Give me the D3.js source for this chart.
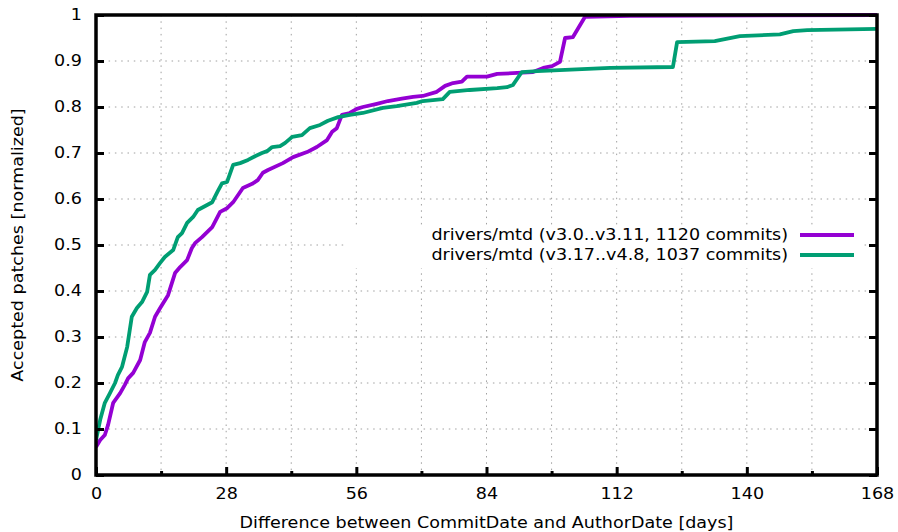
<!DOCTYPE html>
<html>
<head>
<meta charset="utf-8">
<script src="https://cdn.jsdelivr.net/npm/d3@7"></script>
<style>
  body { margin: 0; background: #fff; }
  svg { display: block; font-family: "DejaVu Sans", sans-serif; }
  .grid line { stroke: #a0a0a0; stroke-width: 1; stroke-dasharray: 1.5,4.8; }
</style>
</head>
<body>
<svg width="898" height="532"></svg>
<script>
// purple: drivers/mtd v3.0..v3.11
const daysA = [0, 0.9, 1.9, 2.6, 3.7, 5.2, 6.2, 6.9, 8.0, 9.5, 10.5, 11.6, 12.7, 13.8, 15.5, 17, 18.1, 19.6, 20.6, 21.3, 22.8, 25, 26.7, 28.2, 29.5, 31.6, 33.6, 34.8, 35.9, 37, 40.2, 42.4, 45.4, 47.5, 49.7, 50.8, 51.8, 52.9, 54.6, 56.1, 57.4, 60.4, 62.8, 65.8, 68.2, 70.3, 73.3, 75.1, 76.8, 78.7, 79.8, 84.1, 86.3, 90.6, 94, 96.2, 98.1, 99.8, 100.9, 102.6, 105.2, 114.9, 168];
const valsA = [0.061, 0.076, 0.087, 0.109, 0.157, 0.178, 0.196, 0.21, 0.222, 0.25, 0.289, 0.309, 0.344, 0.363, 0.391, 0.439, 0.452, 0.467, 0.493, 0.504, 0.517, 0.539, 0.572, 0.58, 0.593, 0.624, 0.633, 0.641, 0.657, 0.663, 0.678, 0.691, 0.702, 0.713, 0.728, 0.746, 0.754, 0.783, 0.787, 0.796, 0.8, 0.807, 0.813, 0.818, 0.822, 0.824, 0.833, 0.846, 0.852, 0.855, 0.866, 0.866, 0.872, 0.874, 0.876, 0.885, 0.889, 0.898, 0.95, 0.952, 0.996, 0.998, 1.0];

// green: drivers/mtd v3.17..v4.8
const daysB = [0, 0.9, 1.9, 3, 4.1, 4.7, 5.6, 5.8, 6.7, 7.7, 8.8, 9.9, 11, 11.6, 12.7, 13.8, 14.8, 16.6, 17.6, 18.5, 19.6, 20.9, 21.9, 23.9, 25, 26.2, 27.1, 28.2, 29.5, 31, 32.7, 34.2, 35.7, 36.8, 37.9, 39.6, 40.7, 42.2, 44.3, 46, 48.2, 49.9, 52.1, 54.6, 57.4, 61.7, 64.7, 69, 70.3, 74.6, 76.1, 80.4, 86.3, 88.4, 89.7, 91.6, 94.9, 110.6, 124.1, 125, 133.1, 138.5, 147.1, 150, 153, 168];
const valsB = [0.076, 0.12, 0.157, 0.178, 0.2, 0.217, 0.235, 0.243, 0.278, 0.344, 0.363, 0.376, 0.398, 0.435, 0.446, 0.461, 0.474, 0.489, 0.517, 0.526, 0.548, 0.561, 0.576, 0.587, 0.593, 0.617, 0.634, 0.637, 0.674, 0.678, 0.685, 0.693, 0.7, 0.704, 0.713, 0.715, 0.722, 0.735, 0.739, 0.754, 0.761, 0.77, 0.778, 0.783, 0.787, 0.798, 0.802, 0.809, 0.813, 0.817, 0.833, 0.837, 0.841, 0.843, 0.848, 0.876, 0.878, 0.885, 0.887, 0.941, 0.943, 0.954, 0.958, 0.965, 0.967, 0.97];

const xTicks = [0, 28, 56, 84, 112, 140, 168];
const xMinor = [14, 42, 70, 98, 126, 154];
const yTicks = [0, 0.1, 0.2, 0.3, 0.4, 0.5, 0.6, 0.7, 0.8, 0.9, 1];

const series = [
  { label: 'drivers/mtd (v3.0..v3.11, 1120 commits)', color: '#9400d3', days: daysA, vals: valsA },
  { label: 'drivers/mtd (v3.17..v4.8, 1037 commits)', color: '#009e73', days: daysB, vals: valsB }
];

const svg = d3.select('svg');
const plotL = 96, plotR = 877, plotT = 15, plotB = 475;
const stretch = 1.17; // text in the original is drawn wider than normal

const x = d3.scaleLinear().domain([0, 168]).range([plotL, plotR]);
const y = d3.scaleLinear().domain([0, 1]).range([plotB, plotT]);

// grid
const grid = svg.append('g').classed('grid', true);
grid.selectAll('.gy')
  .data(yTicks.slice(1, -1))
  .join('line')
  .attr('x1', plotL).attr('x2', plotR)
  .attr('y1', d => y(d)).attr('y2', d => y(d));
grid.selectAll('.gx')
  .data(xTicks.slice(1, -1).concat(xMinor))
  .join('line')
  .attr('x1', d => x(d)).attr('x2', d => x(d))
  .attr('y1', plotT).attr('y2', plotB);

// legend box blanks the grid behind it
svg.append('rect')
  .attr('x', 345).attr('y', 225)
  .attr('width', 518).attr('height', 43)
  .attr('fill', '#fff');

// lines
svg.append('clipPath').attr('id', 'clip')
  .append('rect').attr('x', plotL).attr('y', plotT - 2)
  .attr('width', plotR - plotL).attr('height', plotB - plotT + 2);

const line = d3.line()
  .x(d => x(d[0]))
  .y(d => y(d[1]));

svg.append('g').attr('clip-path', 'url(#clip)')
  .selectAll('path')
  .data(series)
  .join('path')
  .attr('d', s => line(s.days.map((d, i) => [d, s.vals[i]])))
  .attr('fill', 'none')
  .attr('stroke', s => s.color)
  .attr('stroke-width', 3.8)
  .attr('stroke-linejoin', 'round');

// axes using d3 axis generators
const axisStyle = g => {
  g.select('.domain').remove();
  g.selectAll('.tick line').attr('stroke', '#000').attr('stroke-width', 3);
  g.selectAll('.tick text').attr('fill', '#000').attr('font-size', 15)
    .attr('font-family', '"DejaVu Sans", sans-serif')
    .attr('x', function() { return (+d3.select(this).attr('x') || 0) / stretch; })
    .attr('transform', `scale(${stretch},1)`);
};

svg.append('g')
  .attr('transform', `translate(0,${plotB})`)
  .call(d3.axisBottom(x).tickValues(xTicks).tickSize(-8).tickPadding(13).tickFormat(d3.format('d')))
  .call(axisStyle);

svg.append('g')
  .attr('transform', `translate(0,${plotB})`)
  .call(d3.axisBottom(x).tickValues(xMinor).tickSize(-4).tickFormat(''))
  .call(axisStyle);

svg.append('g')
  .attr('transform', `translate(${plotL},0)`)
  .call(d3.axisLeft(y).tickValues(yTicks).tickSize(-8).tickPadding(14).tickFormat(d3.format('~g')))
  .call(axisStyle);

svg.append('g')
  .attr('transform', `translate(${plotR},0)`)
  .call(d3.axisRight(y).tickValues(yTicks).tickSize(-8).tickFormat(''))
  .call(axisStyle);

// frame
svg.append('rect')
  .attr('x', plotL).attr('y', plotT)
  .attr('width', plotR - plotL).attr('height', plotB - plotT)
  .attr('fill', 'none').attr('stroke', '#000').attr('stroke-width', 3.5);

// legend
const legend = svg.append('g')
  .selectAll('g')
  .data(series)
  .join('g')
  .attr('transform', (d, i) => `translate(0,${235 + i * 20})`);

legend.append('text')
  .attr('transform', `translate(788,0) scale(${stretch},1)`)
  .attr('dy', '0.35em')
  .attr('text-anchor', 'end')
  .attr('font-size', 15)
  .text(d => d.label);

legend.append('line')
  .attr('x1', 800).attr('x2', 854)
  .attr('stroke', d => d.color)
  .attr('stroke-width', 3.8);

// axis titles
svg.append('text')
  .attr('transform', `translate(${(plotL + plotR) / 2},528) scale(${stretch},1)`)
  .attr('text-anchor', 'middle')
  .attr('font-size', 15)
  .text('Difference between CommitDate and AuthorDate [days]');

svg.append('text')
  .attr('transform', `translate(23,${(plotT + plotB) / 2}) rotate(-90) scale(${stretch},1)`)
  .attr('text-anchor', 'middle')
  .attr('font-size', 15)
  .text('Accepted patches [normalized]');
</script>
</body>
</html>
